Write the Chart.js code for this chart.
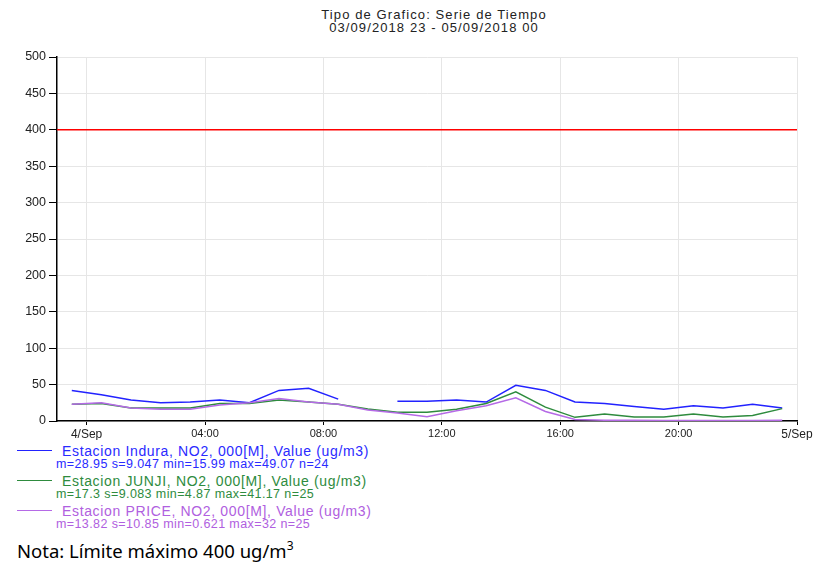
<!DOCTYPE html>
<html><head><meta charset="utf-8">
<script src="https://cdn.jsdelivr.net/npm/chart.js@4"></script>
<style>
body{margin:0;background:#fff;width:827px;height:564px;overflow:hidden;position:relative;font-family:"Liberation Sans",Arial,sans-serif;}
#c{position:absolute;left:0;top:0;}
.title{position:absolute;left:434px;transform:translateX(-50%);white-space:nowrap;font-size:13px;line-height:13px;color:#222;letter-spacing:1.1px;}
.lg{position:absolute;white-space:nowrap;line-height:14px;}
.sw{position:absolute;left:17px;width:35px;height:0;border-top:1.5px solid;}
.note{position:absolute;left:17px;top:540px;font-family:"Noto Sans",sans-serif;font-size:18.5px;line-height:22px;color:#000;white-space:nowrap;}
</style></head>
<body>
<div class="title" style="top:8px">Tipo de Grafico: Serie de Tiempo</div>
<div class="title" style="top:21px">03/09/2018 23 - 05/09/2018 00</div>
<canvas id="c" width="827" height="440"></canvas>
<div id="legend"></div>
<div class="note">Nota: Límite máximo 400 ug/m<sup style="font-size:12px;vertical-align:8px;line-height:0">3</sup></div>
<script>
// hourly slots from 03/09 23:30 to 04/09 23:30
const timeSlots = ['23:30','00:30','01:30','02:30','03:30','04:30','05:30','06:30','07:30','08:30','09:30','10:30','11:30','12:30','13:30','14:30','15:30','16:30','17:30','18:30','19:30','20:30','21:30','22:30','23:30'];
const induraValues = [42,36,29,25,26,29,25,42,45,30,null,27,27,29,26,49,42,26,24,20,16,21,18,23,18];
const junjiValues  = [23,24,18,18,18,24,24,29,26,23,16.5,12,12,16,24,40,19,5,9.5,5.5,5.5,9.5,5.5,7.5,17];
const priceValues  = [23,25,18,16,16,22,25,31,26,23,15,11,6,14,21,32,13,2,1.2,0.9,0.8,0.7,0.621,0.8,1.0];
const seriesNames = ['Estacion Indura, NO2, 000[M], Value (ug/m3)','Estacion JUNJI, NO2, 000[M], Value (ug/m3)','Estacion PRICE, NO2, 000[M], Value (ug/m3)'];
const seriesStats = ['m=28.95 s=9.047 min=15.99 max=49.07 n=24','m=17.3 s=9.083 min=4.87 max=41.17 n=25','m=13.82 s=10.85 min=0.621 max=32 n=25'];
const xTickHours = [1,5,9,13,17,21,25];
const xTickLabels = ['4/Sep','04:00','08:00','12:00','16:00','20:00','5/Sep'];
const limitValue = 400;
const axisHours = 25;

const colors = ['#2222ff','#2e8b3e','#b56ae6'];
const textColors = ['#2a2aff','#2e8b3e','#b060e0'];
const toPts = arr => arr.map((v,i)=>({x:i+0.5,y:v}));

const fam = '"Liberation Sans", Arial, sans-serif';
new Chart(document.getElementById('c'), {
  type:'line',
  data:{datasets:[
    {data:[{x:0,y:limitValue},{x:axisHours,y:limitValue}],borderColor:'#ff0000',borderWidth:1.5,pointRadius:0,order:3},
    {data:toPts(induraValues),borderColor:colors[0],borderWidth:1.5,pointRadius:0,spanGaps:false,order:2},
    {data:toPts(junjiValues),borderColor:colors[1],borderWidth:1.5,pointRadius:0,order:1},
    {data:toPts(priceValues),borderColor:colors[2],borderWidth:1.5,pointRadius:0,order:0}
  ]},
  options:{
    responsive:false,animation:false,
    layout:{padding:{left:0,right:30,top:57,bottom:0}},
    plugins:{legend:{display:false},tooltip:{enabled:false},title:{display:false}},
    scales:{
      x:{type:'linear',min:0,max:axisHours,
        afterBuildTicks:s=>{s.ticks=xTickHours.map(v=>({value:v}));},
        afterFit:s=>{s.height=19;},
        grid:{color:'#e6e6e6',tickColor:'#000',tickLength:4,lineWidth:1},
        border:{color:'#000',width:1.5},
        ticks:{padding:2,color:'#222',maxRotation:0,autoSkip:false,
          callback:(v)=>{const i=xTickHours.indexOf(v);return i>=0?xTickLabels[i]:'';},
          font:(ctx)=>({family:fam,size:(ctx.index===0||ctx.index===xTickHours.length-1)?12:11})}
      },
      y:{min:0,max:500,
        afterFit:s=>{s.width=57;},
        grid:{color:'#e6e6e6',tickColor:'#000',tickLength:8,lineWidth:1},
        border:{color:'#000',width:1.5},
        ticks:{stepSize:50,padding:3,color:'#222',font:{family:fam,size:12.5}}
      }
    }
  }
});

const lg = document.getElementById('legend');
const lineY=[451,481,511], statY=[464,494,524];
seriesNames.forEach((n,i)=>{
  const sw=document.createElement('div');sw.className='sw';sw.style.top=(lineY[i]-1)+'px';sw.style.borderColor=colors[i];lg.appendChild(sw);
  const t=document.createElement('div');t.className='lg';t.style.left='62px';t.style.top=(lineY[i]-7)+'px';t.style.fontSize='14px';t.style.letterSpacing='0.65px';t.style.color=textColors[i];t.textContent=n;lg.appendChild(t);
  const s=document.createElement('div');s.className='lg';s.style.left='56px';s.style.top=(statY[i]-7)+'px';s.style.fontSize='12.5px';s.style.letterSpacing='0.4px';s.style.color=textColors[i];s.textContent=seriesStats[i];lg.appendChild(s);
});
</script>
</body></html>
